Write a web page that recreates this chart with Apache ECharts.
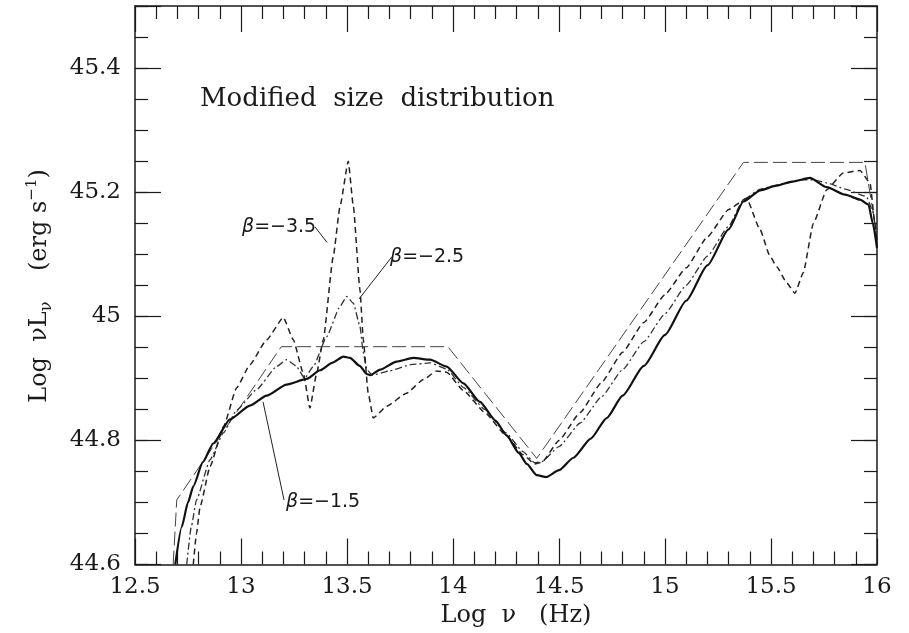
<!DOCTYPE html>
<html><head><meta charset="utf-8">
<script src="https://cdn.jsdelivr.net/npm/echarts/dist/echarts.min.js"></script>
<style>html,body{margin:0;padding:0;background:#fff}#c{width:909px;height:633px}</style>
</head><body><div id="c"></div>
<script>
// ---- data ----
const solidX = [12.69,12.72,12.75,12.775,12.82,12.869,12.948,13.042,13.121,13.215,13.31,13.373,13.43,13.483,13.514,13.56,13.593,13.61,13.656,13.734,13.813,13.892,13.97,14.049,14.127,14.2,14.253,14.31,14.348,14.395,14.44,14.5,14.568,14.65,14.725,14.8,14.9,15.0,15.1,15.2,15.3,15.37,15.45,15.52,15.6,15.684,15.763,15.85,15.92,15.96,15.98,16.0];
const solidY = [44.60,44.66,44.70,44.726,44.765,44.795,44.834,44.856,44.872,44.89,44.899,44.913,44.925,44.935,44.933,44.92,44.907,44.905,44.914,44.927,44.933,44.93,44.919,44.892,44.862,44.832,44.808,44.78,44.762,44.744,44.741,44.752,44.772,44.803,44.836,44.872,44.92,44.97,45.025,45.082,45.14,45.185,45.203,45.21,45.217,45.223,45.208,45.196,45.188,45.18,45.15,45.11];

const dashX = [12.775,12.79,12.807,12.854,12.917,12.98,13.042,13.121,13.2,13.247,13.294,13.325,13.357,13.388,13.435,13.467,13.506,13.53,13.561,13.577,13.6,13.624,13.687,13.781,13.86,13.923,13.97,14.05,14.15,14.25,14.33,14.385,14.42,14.5,14.6,14.7,14.8,14.9,15.0,15.1,15.2,15.3,15.385,15.448,15.495,15.527,15.574,15.613,15.652,15.7,15.763,15.841,15.92,15.967,15.99,16.0];
const dashY = [44.60,44.65,44.693,44.758,44.822,44.885,44.922,44.962,44.998,44.962,44.908,44.852,44.908,44.962,45.096,45.177,45.25,45.177,45.043,44.962,44.876,44.836,44.855,44.876,44.898,44.912,44.91,44.88,44.845,44.808,44.777,44.762,44.765,44.8,44.845,44.893,44.942,44.99,45.035,45.078,45.128,45.172,45.19,45.14,45.097,45.08,45.054,45.037,45.07,45.15,45.204,45.231,45.235,45.215,45.15,45.12];

const dashDotX = [12.744,12.765,12.79,12.854,12.917,12.98,13.074,13.168,13.215,13.26,13.3,13.341,13.404,13.467,13.499,13.53,13.561,13.577,13.593,13.62,13.7,13.8,13.892,13.97,14.05,14.15,14.25,14.33,14.385,14.42,14.5,14.6,14.7,14.8,14.9,15.0,15.1,15.2,15.3,15.37,15.45,15.55,15.65,15.7,15.763,15.85,15.95,15.98,16.0];
const dashDotY = [44.60,44.66,44.704,44.769,44.812,44.849,44.882,44.919,44.93,44.92,44.9,44.919,44.967,45.016,45.032,45.021,44.984,44.941,44.914,44.905,44.912,44.922,44.925,44.915,44.885,44.85,44.812,44.782,44.764,44.766,44.79,44.828,44.87,44.914,44.959,45.004,45.05,45.097,45.145,45.188,45.205,45.213,45.22,45.22,45.215,45.205,45.193,45.17,45.12];

const longDashX = [12.68,12.697,13.19,13.976,14.395,15.37,15.943,16.0];
const longDashY = [44.6,44.704,44.951,44.951,44.771,45.248,45.248,45.13];

// annotation leader lines (data coordinates)
const lead35X = [13.349,13.406], lead35Y = [45.144,45.119];
const lead25X = [13.712,13.557], lead25Y = [45.096,45.028];
const lead15X = [13.203,13.104], lead15Y = [44.704,44.862];

const xMin = 12.5, xMax = 16, xStep = 0.5;
const yMin = 44.6, yMax = 45.5, yStep = 0.2, yMinorStep = 0.05;

const labelFont = 'DejaVu Serif';
const ink = '#1a1a1a';

function zip(a, b) { return a.map((v, i) => [v, b[i]]); }

const chart = echarts.init(document.getElementById('c'), null, {renderer: 'canvas'});

const axLine = {show: true, onZero: false, lineStyle: {color: ink, width: 1.5}};
const tickStyle = {color: ink, width: 1.2};

function xAx(pos, showLabel) {
  return {
    type: 'value', min: xMin, max: xMax, interval: xStep, position: pos,
    axisLine: axLine,
    axisTick: {show: true, inside: true, length: 26, lineStyle: tickStyle},
    minorTick: {show: true, splitNumber: 5, length: 13, lineStyle: tickStyle},
    splitLine: {show: false}, minorSplitLine: {show: false},
    axisLabel: {show: showLabel, fontFamily: labelFont, fontSize: 23, color: ink, margin: 11,
      formatter: v => String(+v.toFixed(1))}
  };
}
function yAx(pos, step, len, showLabel, showLine) {
  return {
    type: 'value', min: yMin, max: yMax, interval: step, position: pos,
    axisLine: showLine ? axLine : {show: false, onZero: false},
    axisTick: {show: true, inside: true, length: len, lineStyle: tickStyle},
    splitLine: {show: false},
    axisLabel: {show: showLabel, fontFamily: labelFont, fontSize: 23, color: ink, margin: 14,
      formatter: v => (v > yMax - 0.01 ? '' : String(+v.toFixed(1)))}
  };
}

const lineBase = {type: 'line', showSymbol: false, symbol: 'none', silent: true, xAxisIndex: 0, yAxisIndex: 0, clip: true};

const betaRich = {b: {fontFamily: 'DejaVu Sans', fontStyle: 'italic', fontSize: 19, fill: ink, color: ink},
                  t: {fontFamily: 'DejaVu Sans', fontSize: 19, fill: ink, color: ink}};

chart.setOption({
  backgroundColor: '#ffffff',
  animation: false,
  grid: {left: 135, right: 32, top: 6, bottom: 68.5, containLabel: false, outerBoundsMode: 'none'},
  xAxis: [xAx('bottom', true), xAx('top', false)],
  yAxis: [
    yAx('left', yStep, 26, true, true),
    yAx('left', yMinorStep, 13, false, false),
    yAx('right', yStep, 26, false, true),
    yAx('right', yMinorStep, 13, false, false)
  ],
  series: [
    Object.assign({}, lineBase, {name: 'envelope', data: zip(longDashX, longDashY),
      lineStyle: {color: '#444', width: 1, type: [14, 5]}}),
    Object.assign({}, lineBase, {name: 'beta -2.5', data: zip(dashDotX, dashDotY), smooth: 0.15, smoothMonotone: 'x',
      lineStyle: {color: '#333', width: 1.3, type: [7, 3, 2, 3]}}),
    Object.assign({}, lineBase, {name: 'beta -3.5', data: zip(dashX, dashY), smooth: 0.15, smoothMonotone: 'x',
      lineStyle: {color: '#222', width: 1.5, type: [6, 4]}}),
    Object.assign({}, lineBase, {name: 'beta -1.5', data: zip(solidX, solidY), smooth: 0.2, smoothMonotone: 'x',
      lineStyle: {color: '#111', width: 2.2, type: 'solid'}}),
    Object.assign({}, lineBase, {name: 'lead35', data: zip(lead35X, lead35Y), lineStyle: {color: '#222', width: 1}}),
    Object.assign({}, lineBase, {name: 'lead25', data: zip(lead25X, lead25Y), lineStyle: {color: '#222', width: 1}}),
    Object.assign({}, lineBase, {name: 'lead15', data: zip(lead15X, lead15Y), lineStyle: {color: '#222', width: 1}})
  ],
  graphic: [
    {type: 'text', x: 200, y: 99, style: {text: 'Modified  size  distribution', fill: ink,
      font: '26px "DejaVu Serif"', verticalAlign: 'middle', align: 'left'}},
    {type: 'text', x: 242, y: 227, style: {text: '{b|β}{t|=−3.5}', verticalAlign: 'middle', align: 'left', rich: betaRich}},
    {type: 'text', x: 390, y: 257, style: {text: '{b|β}{t|=−2.5}', verticalAlign: 'middle', align: 'left', rich: betaRich}},
    {type: 'text', x: 286, y: 502, style: {text: '{b|β}{t|=−1.5}', verticalAlign: 'middle', align: 'left', rich: betaRich}},
    {type: 'text', x: 516, y: 616, style: {text: 'Log  ν   (Hz)', fill: ink, font: '24px "DejaVu Serif"',
      align: 'center', verticalAlign: 'middle'}},
    {type: 'text', x: 40, y: 286, rotation: Math.PI / 2, style: {
      text: '{a|Log  νL}{s|ν}{a|    (erg s}{p|−1}{a|)}', align: 'center', verticalAlign: 'middle',
      rich: {
        a: {fontFamily: 'DejaVu Serif', fontSize: 24, lineHeight: 30, fill: ink, color: ink},
        s: {fontFamily: 'DejaVu Serif', fontSize: 16, lineHeight: 16, verticalAlign: 'bottom', fill: ink, color: ink},
        p: {fontFamily: 'DejaVu Serif', fontSize: 15, lineHeight: 15, verticalAlign: 'top', fill: ink, color: ink}
      }}}
  ]
});
</script></body></html>
